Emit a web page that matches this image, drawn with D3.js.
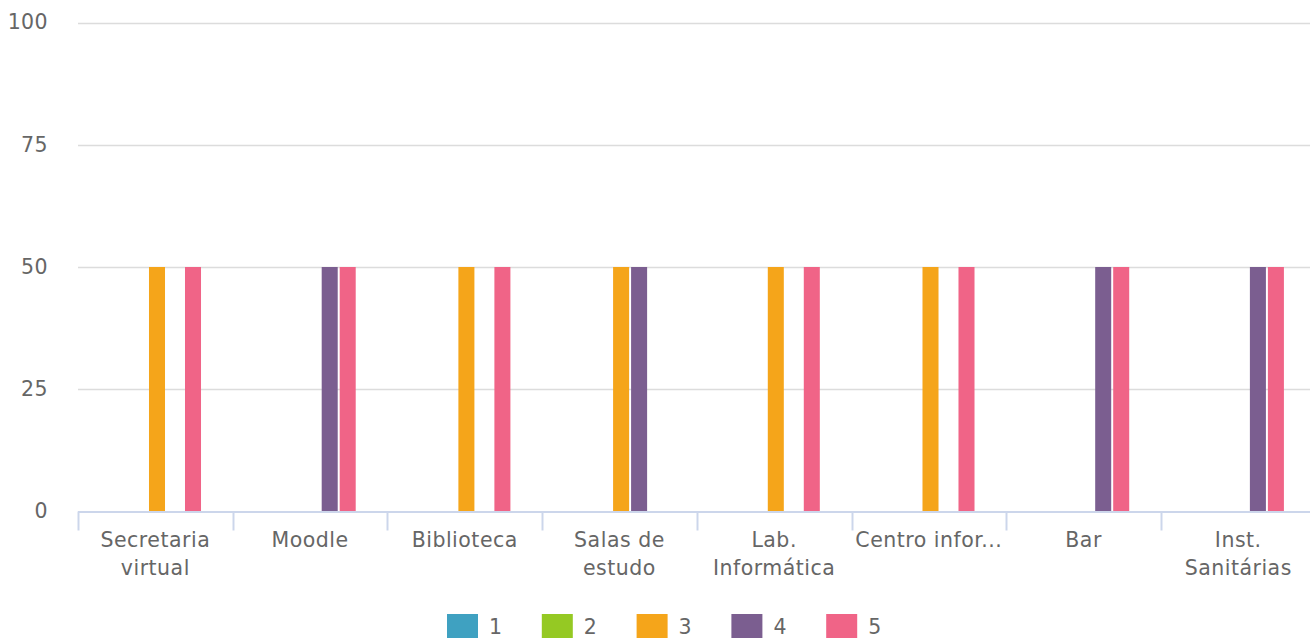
<!DOCTYPE html>
<html><head><meta charset="utf-8">
<script src="https://cdn.jsdelivr.net/npm/d3@7"></script>
<style>
html,body{margin:0;padding:0;background:#fff;overflow:hidden}
svg{display:block;font-family:"DejaVu Sans",Verdana,sans-serif}
</style></head>
<body>
<svg id="chart" width="1310" height="639"></svg>
<script>
const categories = ["Secretaria virtual","Moodle","Biblioteca","Salas de estudo","Lab. Informática","Centro infor...","Bar","Inst. Sanitárias"];
const tickLabels = [["Secretaria","virtual"],["Moodle"],["Biblioteca"],["Salas de","estudo"],["Lab.","Informática"],["Centro infor..."],["Bar"],["Inst.","Sanitárias"]];
const seriesNames = ["1","2","3","4","5"];
const s1 = [0,0,0,0,0,0,0,0];
const s2 = [0,0,0,0,0,0,0,0];
const s3 = [50,0,50,50,50,50,0,0];
const s4 = [0,50,0,50,0,0,50,50];
const s5 = [50,50,50,0,50,50,50,50];
const seriesValues = [s1,s2,s3,s4,s5];
const colors = ["#3fa1c1","#95c923","#f5a51a","#7b5e90","#f06487"];
const yTicks = [0,25,50,75,100];

(function(){
const svg = d3.select("#chart");
const pLeft = 78, pRight = 1315.6, pTop = 22.5, pBottom = 511.5;

const x0 = d3.scaleBand().domain(categories).range([pLeft, pRight]).padding(0);
const bw = x0.bandwidth();
const x1 = d3.scaleBand().domain(seriesNames).range([34, 124]).paddingInner(0.11).paddingOuter(0.055);
const y = d3.scaleLinear().domain([0,100]).range([pBottom, pTop]);

// grid
svg.append("g").selectAll("line").data(yTicks.filter(d=>d>0)).join("line")
  .attr("x1", pLeft).attr("x2", 1310)
  .attr("y1", d=>Math.round(y(d))+0.5).attr("y2", d=>Math.round(y(d))+0.5)
  .attr("stroke","#dcdcdc").attr("stroke-width",1.5);

// y labels
svg.append("g").selectAll("text").data(yTicks).join("text")
  .attr("x", 48).attr("y", d=>y(d)).attr("dy","0.33em")
  .attr("text-anchor","end").attr("fill","#666").attr("font-size","20.5px").attr("letter-spacing","0.4px")
  .text(d=>d);

// bars
const rows = [];
categories.forEach((c,i)=>seriesNames.forEach((s,j)=>rows.push({c, s, v: seriesValues[j][i], color: colors[j]})));
svg.append("g").selectAll("rect").data(rows.filter(d=>d.v>0)).join("rect")
  .attr("x", d=>x0(d.c)+x1(d.s)).attr("width", x1.bandwidth())
  .attr("y", d=>y(d.v)).attr("height", d=>y(0)-y(d.v))
  .attr("fill", d=>d.color);

// x axis
const xAxis = svg.append("g");
xAxis.append("line").attr("x1",pLeft).attr("x2",1310).attr("y1",pBottom+0.5).attr("y2",pBottom+0.5)
  .attr("stroke","#ccd6eb").attr("stroke-width",2);
xAxis.selectAll("line.tick").data(categories).join("line").attr("class","tick")
  .attr("x1", d=>Math.round(x0(d))+0.5).attr("x2", d=>Math.round(x0(d))+0.5)
  .attr("y1", pBottom).attr("y2", pBottom+19)
  .attr("stroke","#ccd6eb").attr("stroke-width",2);
const lbl = xAxis.selectAll("text").data(categories).join("text")
  .attr("text-anchor","middle").attr("fill","#666").attr("font-size","20.5px").attr("letter-spacing","0.5px");
lbl.each(function(d,i){
  const t = d3.select(this);
  tickLabels[i].forEach((line,k)=>{
    t.append("tspan").attr("x", x0(d)+bw/2).attr("y", 547 + k*28).text(line);
  });
});

// legend
const lg = svg.append("g");
seriesNames.forEach((s,j)=>{
  const lx = 447 + j*94.8;
  lg.append("rect").attr("x",lx).attr("y",614).attr("width",31).attr("height",24).attr("fill",colors[j]);
  lg.append("text").attr("x",lx+42).attr("y",634).attr("fill","#666")
    .attr("font-size","20.5px").text(s);
});
})();
</script>
</body></html>
